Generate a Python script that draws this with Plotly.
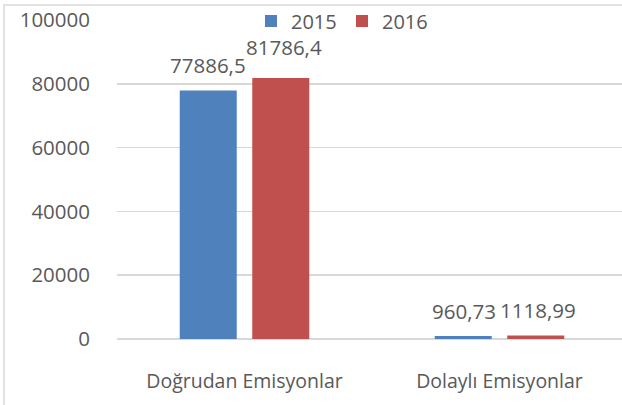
import plotly.graph_objects as go

categories = ["Doğrudan Emisyonlar", "Dolaylı Emisyonlar"]
series_names = ["2015", "2016"]
values_2015 = [77886.5, 960.73]
values_2016 = [81786.4, 1118.99]
labels_2015 = ["77886,5", "960,73"]
labels_2016 = ["81786,4", "1118,99"]
y_ticks = [0, 20000, 40000, 60000, 80000, 100000]

colors = ["#4F81BD", "#C0504D"]
FONT = "Open Sans"
TXT = "#595959"

fig = go.Figure()
for name, vals, col in zip(series_names, [values_2015, values_2016], colors):
    fig.add_trace(go.Bar(name=name, x=categories, y=vals, marker_color=col,
                         marker_line_width=0))

# label placement offsets (px): [series][category] -> (xshift, yshift)
offsets = [[(0, 26), (1, 25)], [(3, 31), (2, 25)]]
slot = 0.1422  # half distance between bar centers in category units
for si, (vals, labs) in enumerate([(values_2015, labels_2015), (values_2016, labels_2016)]):
    for ci, (v, t) in enumerate(zip(vals, labs)):
        dx = -slot if si == 0 else slot
        fig.add_annotation(x=ci + dx, y=v, text=t, showarrow=False,
                           xref="x", yref="y", xanchor="center", yanchor="middle",
                           xshift=offsets[si][ci][0], yshift=offsets[si][ci][1],
                           font=dict(family=FONT, size=20.5, color=TXT))

W, H = 622, 405
L, R, T, B = 117, 0, 20, 66
pw, ph = W - L - R, H - T - B
fig.add_shape(type="rect", xref="paper", yref="paper",
              x0=(4 - L) / pw, x1=1.2, y0=-0.5, y1=1 + (T - 5) / ph,
              line=dict(color="#d9d9d9", width=1.5), layer="below")

fig.update_layout(
    width=W, height=H,
    margin=dict(l=L, r=R, t=T, b=B, autoexpand=False),
    paper_bgcolor="white", plot_bgcolor="white",
    barmode="group", bargap=0.431, bargroupgap=0.214,
    font=dict(family=FONT, size=20, color=TXT),
    showlegend=True,
    legend=dict(orientation="h", x=(251 - L) / pw, xanchor="left",
                y=1 + (T - 21) / ph, yanchor="middle",
                bgcolor="rgba(0,0,0,0)", itemwidth=30, entrywidth=46,
                font=dict(family=FONT, size=20, color=TXT)),
    xaxis=dict(type="category", range=[-0.5, 1.5 - 5 / 255], showgrid=False,
               showline=False, ticks="", ticklabelstandoff=28,
               tickfont=dict(family=FONT, size=19.5, color=TXT)),
    yaxis=dict(range=[0, 100000], tickvals=y_ticks, ticktext=[str(v) for v in y_ticks],
               showgrid=True, gridcolor="#d9d9d9", gridwidth=1.5,
               zeroline=True, zerolinecolor="#d9d9d9", zerolinewidth=1.5,
               showline=False, ticks="", ticklabelstandoff=26,
               tickfont=dict(family=FONT, size=20.5, color=TXT)),
)

fig.write_html("out.html",
               config={"displayModeBar": False, "staticPlot": True},
               post_script="document.documentElement.style.overflow='hidden';"
                           "document.body.style.margin='0px';"
                           "document.body.style.overflow='hidden';")
